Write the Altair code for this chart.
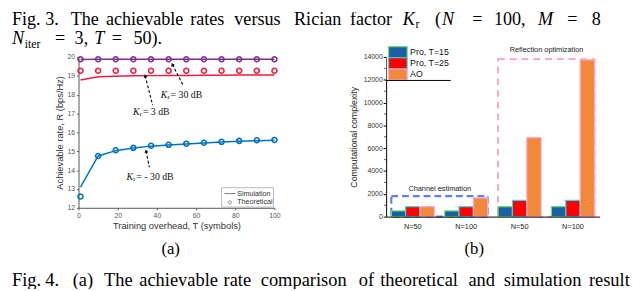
import altair as alt
import pandas as pd

SERIF = "Liberation Serif"
SANS = "Liberation Sans"

# ---------------- panel (a) data ----------------
T = [1, 10, 19, 28, 37, 46, 55, 64, 73, 82, 91, 100]
sim_30 = [19.87, 19.88, 19.88, 19.88, 19.88, 19.88, 19.88, 19.88, 19.88, 19.88, 19.88, 19.88]
theo_30 = [19.88, 19.88, 19.88, 19.88, 19.88, 19.88, 19.88, 19.88, 19.88, 19.88, 19.88, 19.88]
sim_3 = [18.78, 18.95, 18.98, 19.0, 19.01, 19.02, 19.02, 19.03, 19.03, 19.04, 19.04, 19.04]
theo_3 = [19.27, 19.27, 19.27, 19.27, 19.27, 19.27, 19.27, 19.27, 19.27, 19.27, 19.27, 19.27]
sim_m30 = [13.1, 14.75, 15.03, 15.17, 15.27, 15.33, 15.38, 15.44, 15.49, 15.53, 15.56, 15.58]
theo_m30 = [12.6, 14.75, 15.05, 15.18, 15.29, 15.34, 15.4, 15.45, 15.5, 15.55, 15.58, 15.6]
series_a = ["30 dB", "3 dB", "-30 dB"]
colors_a = ["#7E2F8E", "#EE1C3F", "#0072BD"]
x_ticks_a = [0, 20, 40, 60, 80, 100]
y_ticks_a = [12, 13, 14, 15, 16, 17, 18, 19, 20]

# annotation arrows (data units)
ann_id = ["30 dB", "3 dB", "-30 dB"]
ann_tail_T = [53.5, 37.85, 36.15]
ann_tail_R = [18.48, 17.44, 14.15]
ann_head_T = [47.9, 34.0, 34.5]
ann_head_R = [19.6, 19.0, 15.01]
ann_angle = [332, 346, 349]
ann_label_T = [42.0, 27.85, 24.5]
ann_label_R = [17.99, 17.09, 13.63]
ann_rest = ["= 30 dB", "= 3 dB", "= - 30 dB"]

# ---------------- panel (b) data ----------------
groups = ["g1", "g2", "g3", "g4"]
group_labels = ["N=50", "N=100", "N=50", "N=100"]
series_b = ["Pro, T=15", "Pro, T=25", "AO"]
pro15 = [500, 500, 870, 870]
pro25 = [880, 880, 1430, 1430]
ao = [880, 1650, 6920, 13750]
fills_b = ["#1B5FA6", "#FF0000", "#F2893A"]
strokes_b = ["#6FE06F", "#2ADCEB", "#FFA8D8"]
y_ticks_b = [0, 2000, 4000, 6000, 8000, 10000, 12000, 14000]
y_minor_b = [1000, 3000, 5000, 7000, 9000, 11000, 13000]
box_names = ["Channel estimation", "Reflection optimization"]
box_start = ["g1", "g3"]
box_end = ["g2", "g4"]
box_top = [1800, 13800]
box_label_grp = ["g2", "g4"]
box_label_y = [2430, 14570]

# ---------------- caption texts (page px) ----------------
cap1_norm = ["Fig.", "3.", "The", "achievable", "rates", "versus", "Rician", "factor", "(", "=", "100,", "=", "8"]
cap1_norm_x = [8, 42, 68, 104, 190, 235, 296, 353, 440, 478, 500, 575, 600]
cap1_ital = ["K", "N", "M"]
cap1_ital_x = [407, 447, 545]
cap1_sub = ["r"]
cap1_sub_x = [420]
cap2_norm = ["=", "3,", "=", "50)."]
cap2_norm_x = [52, 72, 110, 132]
cap2_ital = ["N", "T"]
cap2_ital_x = [8, 92]
cap2_sub = ["iter"]
cap2_sub_x = [21]
cap3_words = ["Fig.", "4.", "(a)", "The", "achievable", "rate", "comparison", "of",
              "theoretical", "and", "simulation", "result"]
cap3_x = [8, 42, 70, 102, 138, 224, 262, 362, 384, 474, 510, 597]

one = pd.DataFrame({"k": [0]})

# ================= panel (a) =================
df_a = pd.DataFrame({
    "T": T * 3,
    "sim": sim_30 + sim_3 + sim_m30,
    "theo": theo_30 + theo_3 + theo_m30,
    "series": [s for s in series_a for _ in T],
})
xs_a = alt.Scale(domain=[0, 100], nice=False, zero=False)
ys_a = alt.Scale(domain=[12, 20], nice=False, zero=False)
TX_A = "Training overhead, T (symbols)"
TY_A = "Achievable rate, R (bps/Hz)"
ax_xa = alt.Axis(values=x_ticks_a, labelFontSize=7, labelColor="#555", labelFont=SANS,
                 labelFlush=False, labelOverlap=False, tickSize=2, tickColor="#555",
                 domainColor="#555", labelPadding=2, grid=False, titleFont=SANS,
                 titleFontSize=9.5, titleFontWeight="normal", titleColor="#333",
                 titleX=100, titleY=18, titleBaseline="middle", titleAlign="center")
ax_ya = alt.Axis(values=y_ticks_a, labelFontSize=7, labelColor="#555", labelFont=SANS,
                 labelFlush=False, labelOverlap=False, tickSize=2, tickColor="#555",
                 domainColor="#555", labelPadding=2, grid=False, titleFont=SANS,
                 titleFontSize=9.5, titleFontWeight="normal", titleColor="#333",
                 titleX=-19, titleY=77, titleAngle=270, titleBaseline="middle",
                 titleAlign="center")
col_a = alt.Color("series:N", scale=alt.Scale(domain=series_a, range=colors_a), legend=None)

lines_a = alt.Chart(df_a).mark_line(strokeWidth=1.5).encode(
    x=alt.X("T:Q", scale=xs_a, axis=ax_xa, title=TX_A),
    y=alt.Y("sim:Q", scale=ys_a, axis=ax_ya, title=TY_A),
    color=col_a,
)
pts_a = alt.Chart(df_a).mark_point(filled=False, size=26, strokeWidth=1.6, opacity=1).encode(
    x=alt.X("T:Q", scale=xs_a, axis=ax_xa, title=TX_A),
    y=alt.Y("theo:Q", scale=ys_a, axis=ax_ya, title=TY_A),
    color=col_a,
)
df_arrow = pd.DataFrame({
    "id": ann_id + ann_id,
    "T": ann_tail_T + ann_head_T,
    "R": ann_tail_R + ann_head_R,
})
arrows = alt.Chart(df_arrow).mark_line(color="black", strokeWidth=1.1, strokeDash=[3, 2]).encode(
    x=alt.X("T:Q", scale=xs_a, axis=ax_xa, title=TX_A),
    y=alt.Y("R:Q", scale=ys_a, axis=ax_ya, title=TY_A),
    detail="id:N",
)
df_head = pd.DataFrame({"T": ann_head_T, "R": ann_head_R, "ang": ann_angle})
heads = alt.Chart(df_head).mark_point(shape="triangle-up", filled=True, color="black",
                                      size=16, opacity=1).encode(
    x=alt.X("T:Q", scale=xs_a, axis=ax_xa, title=TX_A),
    y=alt.Y("R:Q", scale=ys_a, axis=ax_ya, title=TY_A),
    angle=alt.Angle("ang:Q", scale=None),
)
df_lab = pd.DataFrame({"T": ann_label_T, "R": ann_label_R, "rest": ann_rest,
                       "K": ["K", "K", "K"], "r": ["r", "r", "r"]})
enc_lab = dict(x=alt.X("T:Q", scale=xs_a, axis=ax_xa, title=TX_A),
               y=alt.Y("R:Q", scale=ys_a, axis=ax_ya, title=TY_A))
lab_K = alt.Chart(df_lab).mark_text(font=SERIF, fontSize=10, fontStyle="italic", align="left",
                                    color="#111").encode(text="K:N", **enc_lab)
lab_r = alt.Chart(df_lab).mark_text(font=SERIF, fontSize=7, align="left", dx=6.8, dy=2.5,
                                    color="#111").encode(text="r:N", **enc_lab)
lab_rest = alt.Chart(df_lab).mark_text(font=SERIF, fontSize=10, align="left", dx=10,
                                       color="#111").encode(text="rest:N", **enc_lab)

leg_box = alt.Chart(one).mark_rect(fill="white", stroke="#999", strokeWidth=0.7).encode(
    x=alt.value(146), x2=alt.value(199), y=alt.value(133.5), y2=alt.value(153.2))
leg_line = alt.Chart(one).mark_rule(color="#555", strokeWidth=0.8).encode(
    x=alt.value(149), x2=alt.value(160), y=alt.value(139.5))
leg_circ = alt.Chart(one).mark_point(filled=False, color="#777", size=10, strokeWidth=0.8,
                                     opacity=1).encode(x=alt.value(154.5), y=alt.value(148.5))
leg_t1 = alt.Chart(one).mark_text(font=SANS, fontSize=7.3, align="left", baseline="middle",
                                  color="#333", text="Simulation").encode(
    x=alt.value(162), y=alt.value(139.5))
leg_t2 = alt.Chart(one).mark_text(font=SANS, fontSize=7.3, align="left", baseline="middle",
                                  color="#333", text="Theoretical").encode(
    x=alt.value(162), y=alt.value(148.5))

panel_a = alt.layer(lines_a, pts_a, arrows, heads, lab_K, lab_r, lab_rest,
                    leg_box, leg_line, leg_circ, leg_t1, leg_t2).properties(width=200, height=154)

# ================= panel (b) =================
df_b = pd.DataFrame({
    "grp": groups * 3,
    "series": [s for s in series_b for _ in groups],
    "value": pro15 + pro25 + ao,
})
label_expr = " : ".join(
    f"datum.value == '{g}' ? '{l}'" for g, l in zip(groups[:-1], group_labels[:-1])
) + f" : '{group_labels[-1]}'"
xs_b = alt.Scale(domain=groups, paddingInner=0.193, paddingOuter=0.0965)
ys_b = alt.Scale(domain=[0, 14000], nice=False, zero=True)
ax_xb = alt.Axis(labelExpr=label_expr, tickSize=0, labelPadding=6, labelFontSize=7.5,
                 labelFont=SANS, labelColor="#222", domainColor="black", domainWidth=1,
                 labelAngle=0, grid=False, labelOverlap=False)
ax_yb = alt.Axis(values=y_ticks_b, format="d", labelFontSize=7, labelFont=SANS, labelColor="#333",
                 tickSize=3, tickColor="black", domainColor="black", labelPadding=1,
                 labelFlush=False, labelOverlap=False, grid=False, titleFont=SANS,
                 titleFontSize=9, titleFontWeight="normal", titleColor="#222",
                 titleX=-33, titleY=81.5, titleAngle=270, titleBaseline="middle",
                 titleAlign="center")
TY_B = "Computational complexity"

bars = alt.Chart(df_b).mark_bar(strokeWidth=1.2, opacity=1).encode(
    x=alt.X("grp:N", scale=xs_b, axis=ax_xb, title=""),
    xOffset=alt.XOffset("series:N", scale=alt.Scale(domain=series_b, paddingInner=0, paddingOuter=0)),
    y=alt.Y("value:Q", scale=ys_b, axis=ax_yb, title=TY_B),
    fill=alt.Fill("series:N", scale=alt.Scale(domain=series_b, range=fills_b), legend=None),
    stroke=alt.Stroke("series:N", scale=alt.Scale(domain=series_b, range=strokes_b), legend=None),
)
minor_b = alt.Chart(pd.DataFrame({"v": y_minor_b})).mark_rule(color="#222", strokeWidth=0.8).encode(
    y=alt.Y("v:Q", scale=ys_b, axis=ax_yb, title=TY_B), x=alt.value(-2), x2=alt.value(0))

df_box = pd.DataFrame({"name": box_names, "s": box_start, "e": box_end,
                       "b": [0, 0], "t": box_top})
box1 = alt.Chart(df_box.iloc[[0]]).mark_rect(fill="transparent", stroke="#5F7FF0",
                                             strokeWidth=2.2, strokeDash=[7, 4]).encode(
    x=alt.X("s:N", scale=xs_b, axis=ax_xb, bandPosition=0, title=""),
    x2=alt.X2("e:N", bandPosition=1),
    y=alt.Y("b:Q", scale=ys_b, axis=ax_yb, title=TY_B), y2="t:Q")
box2 = alt.Chart(df_box.iloc[[1]]).mark_rect(fill="transparent", stroke="#FF9ACB",
                                             strokeWidth=1.8, strokeDash=[7, 5]).encode(
    x=alt.X("s:N", scale=xs_b, axis=ax_xb, bandPosition=0, title=""),
    x2=alt.X2("e:N", bandPosition=1),
    y=alt.Y("b:Q", scale=ys_b, axis=ax_yb, title=TY_B), y2="t:Q")
df_boxlab = pd.DataFrame({"name": box_names, "g": box_label_grp, "y": box_label_y})
box_lab = alt.Chart(df_boxlab).mark_text(font=SANS, fontSize=7.5, color="#222", dx=-5,
                                         baseline="middle").encode(
    x=alt.X("g:N", scale=xs_b, axis=ax_xb, bandPosition=0, title=""),
    y=alt.Y("y:Q", scale=ys_b, axis=ax_yb, title=TY_B),
    text="name:N")

leg_bg = alt.Chart(one).mark_rect(fill="white").encode(
    x=alt.value(0.6), x2=alt.value(66), y=alt.value(-14), y2=alt.value(24))
leg_p = []
for i, (yy0, yy1) in enumerate([(-10.5, 0.8), (0.8, 12.3), (12.3, 23.6)]):
    leg_p.append(alt.Chart(one).mark_rect(fill=fills_b[i], stroke=strokes_b[i], strokeWidth=1.2).encode(
        x=alt.value(2.5), x2=alt.value(21.5), y=alt.value(yy0), y2=alt.value(yy1)))
    leg_p.append(alt.Chart(one).mark_text(font=SANS, fontSize=9, align="left", baseline="middle",
                                          color="#111", text=series_b[i]).encode(
        x=alt.value(24.5), y=alt.value((yy0 + yy1) / 2)))
leg_rule = alt.Chart(one).mark_rule(color="black", strokeWidth=1).encode(
    x=alt.value(-0.5), x2=alt.value(66), y=alt.value(24))

panel_b = alt.layer(box1, box2, bars, minor_b, box_lab, leg_bg, *leg_p, leg_rule).properties(
    width=218, height=163)

# ================= captions =================
def cap_layer(words, xs, yrel, size, style="normal"):
    return alt.Chart(pd.DataFrame({"w": words, "px": [x - 8 for x in xs]})).mark_text(
        font=SERIF, fontSize=size, fontStyle=style, align="left", baseline="alphabetic",
        color="black", clip=True).encode(
        x=alt.X("px:Q", scale=None, axis=None), y=alt.value(yrel), text="w:N")

top_cap = alt.layer(
    cap_layer(cap1_norm, cap1_norm_x, 13.4, 18.5),
    cap_layer(cap1_ital, cap1_ital_x, 13.4, 18.5, "italic"),
    cap_layer(cap1_sub, cap1_sub_x, 16.6, 12),
    cap_layer(cap2_norm, cap2_norm_x, 33.0, 18.5),
    cap_layer(cap2_ital, cap2_ital_x, 33.0, 18.5, "italic"),
    cap_layer(cap2_sub, cap2_sub_x, 36.4, 12),
).properties(width=632, height=46)

sub_labels = alt.Chart(pd.DataFrame({"w": ["(a)", "(b)"], "px": [170 - 8, 480 - 8]})).mark_text(
    font=SERIF, fontSize=17, align="center", baseline="alphabetic", color="black").encode(
    x=alt.X("px:Q", scale=None, axis=None), y=alt.value(38.5), text="w:N")
bot_cap = alt.layer(
    sub_labels,
    cap_layer(cap3_words, cap3_x, 71, 18.8),
).properties(width=632, height=74)

def spacer(w, h=10):
    return alt.Chart(one).mark_point(opacity=0).encode(
        x=alt.value(0), y=alt.value(0)).properties(width=w, height=h)

row = alt.hconcat(spacer(68), panel_a, spacer(114), panel_b, spacing=0, bounds="flush")
chart = alt.vconcat(top_cap, row, spacer(10, 163), bot_cap, spacing=0, bounds="flush").properties(
    padding=0, background="white").configure_view(stroke="transparent")

chart.save("out.html", embed_options={"renderer": "svg", "actions": False})
